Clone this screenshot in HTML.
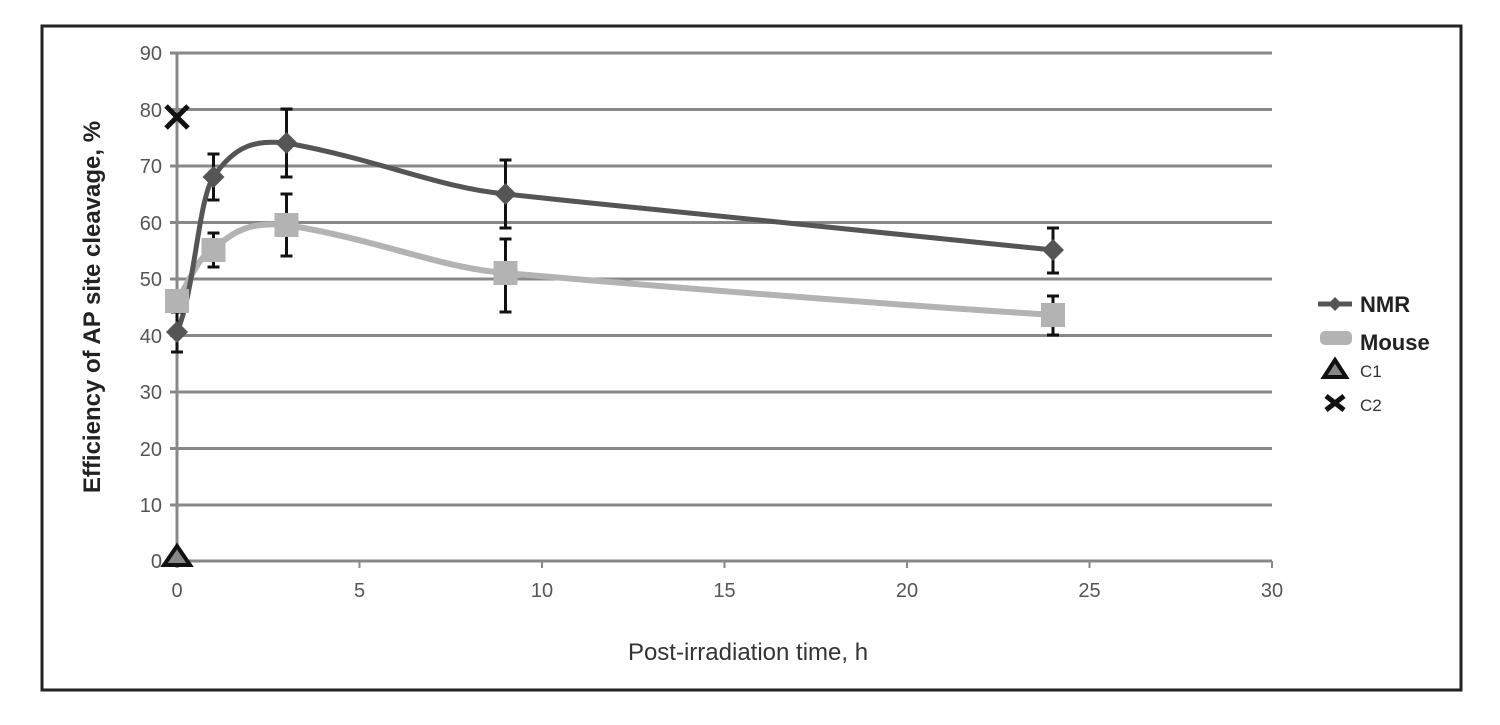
<!DOCTYPE html>
<html><head><meta charset="utf-8"><style>
body{margin:0;background:#fff;}
svg text{font-family:"Liberation Sans",sans-serif;}
</style></head><body>
<svg width="1500" height="720" viewBox="0 0 1500 720" xmlns="http://www.w3.org/2000/svg">
<rect x="0" y="0" width="1500" height="720" fill="#fff"/>
<rect x="42" y="26" width="1419" height="664" fill="none" stroke="#222" stroke-width="3"/>
<g stroke="#888" stroke-width="3">
<line x1="170" y1="53" x2="1272" y2="53"/>
<line x1="170" y1="109.5" x2="1272" y2="109.5"/>
<line x1="170" y1="166" x2="1272" y2="166"/>
<line x1="170" y1="222.5" x2="1272" y2="222.5"/>
<line x1="170" y1="279" x2="1272" y2="279"/>
<line x1="170" y1="335.5" x2="1272" y2="335.5"/>
<line x1="170" y1="392" x2="1272" y2="392"/>
<line x1="170" y1="448.5" x2="1272" y2="448.5"/>
<line x1="170" y1="505" x2="1272" y2="505"/>
<line x1="170" y1="561" x2="1272" y2="561"/>
<line x1="177" y1="53" x2="177" y2="568"/>
</g>
<g stroke="#888" stroke-width="2">
<line x1="359.5" y1="561" x2="359.5" y2="568"/><line x1="542" y1="561" x2="542" y2="568"/><line x1="724.5" y1="561" x2="724.5" y2="568"/><line x1="907" y1="561" x2="907" y2="568"/><line x1="1089.5" y1="561" x2="1089.5" y2="568"/><line x1="1272" y1="561" x2="1272" y2="568"/>
</g>
<g font-size="20" fill="#555" text-anchor="end">
<text x="162" y="60">90</text><text x="162" y="117">80</text><text x="162" y="173">70</text><text x="162" y="230">60</text><text x="162" y="286">50</text><text x="162" y="343">40</text><text x="162" y="399">30</text><text x="162" y="456">20</text><text x="162" y="512">10</text><text x="162" y="568">0</text>
</g>
<g font-size="20" fill="#555" text-anchor="middle">
<text x="177" y="597">0</text><text x="359.5" y="597">5</text><text x="542" y="597">10</text><text x="724.5" y="597">15</text><text x="907" y="597">20</text><text x="1089.5" y="597">25</text><text x="1272" y="597">30</text>
</g>
<text x="748" y="660" font-size="24" fill="#333" text-anchor="middle">Post-irradiation time, h</text>
<text transform="translate(100,307) rotate(-90)" font-size="24" font-weight="bold" fill="#222" text-anchor="middle">Efficiency of AP site cleavage, %</text>
<path d="M177,301 C195,270 200,255 213.5,250 C235,228 255,222 286.5,225 C380,240 440,268 505.5,273 C700,290 900,305 1053,315" fill="none" stroke="#b3b3b3" stroke-width="6"/>
<path d="M177,332 C195,290 198,200 213.5,177 C235,145 255,140 286.5,143 C380,160 440,188 505.5,194 C700,215 900,235 1053,250" fill="none" stroke="#555" stroke-width="5"/>
<g stroke="#111" stroke-width="3">
<path d="M177,312v40M171,312h12M171,352h12"/>
<path d="M213.5,154v46M207.5,154h12M207.5,200h12"/>
<path d="M286.5,109v68M280.5,109h12M280.5,177h12"/>
<path d="M505.5,160v68M499.5,160h12M499.5,228h12"/>
<path d="M1053,228v45M1047,228h12M1047,273h12"/>
<path d="M213.5,233v34M207.5,233h12M207.5,267h12"/>
<path d="M286.5,194v62M280.5,194h12M280.5,256h12"/>
<path d="M505.5,239v73M499.5,239h12M499.5,312h12"/>
<path d="M1053,296v39M1047,296h12M1047,335h12"/>
</g>
<g fill="#555"><path d="M177,321l11,11l-11,11l-11,-11z"/><path d="M213.5,166l11,11l-11,11l-11,-11z"/><path d="M286.5,132l11,11l-11,11l-11,-11z"/><path d="M505.5,183l11,11l-11,11l-11,-11z"/><path d="M1053,239l11,11l-11,11l-11,-11z"/></g>
<g fill="#b3b3b3"><rect x="165" y="289" width="24" height="24"/><rect x="201.5" y="238" width="24" height="24"/><rect x="274.5" y="213" width="24" height="24"/><rect x="493.5" y="261" width="24" height="24"/><rect x="1041" y="303" width="24" height="24"/></g>
<path d="M166,106l22,22M188,106l-22,22" stroke="#111" stroke-width="5"/>
<path d="M177,546l13,19h-26z" fill="#888" stroke="#111" stroke-width="4"/>
<line x1="1318" y1="304" x2="1352" y2="304" stroke="#555" stroke-width="5"/><path d="M1335,297l7,7l-7,7l-7,-7z" fill="#555"/>
<text x="1360" y="312" font-size="22" font-weight="bold" fill="#222">NMR</text>
<rect x="1320" y="331" width="32" height="14" rx="5" fill="#b3b3b3"/>
<text x="1360" y="350" font-size="22" font-weight="bold" fill="#222">Mouse</text>
<path d="M1335,360l11,17h-22z" fill="#888" stroke="#111" stroke-width="4"/>
<text x="1360" y="377" font-size="17" fill="#333">C1</text>
<path d="M1326,396l18,14M1344,396l-18,14" stroke="#111" stroke-width="5"/>
<text x="1360" y="411" font-size="17" fill="#333">C2</text>
</svg>
</body></html>
